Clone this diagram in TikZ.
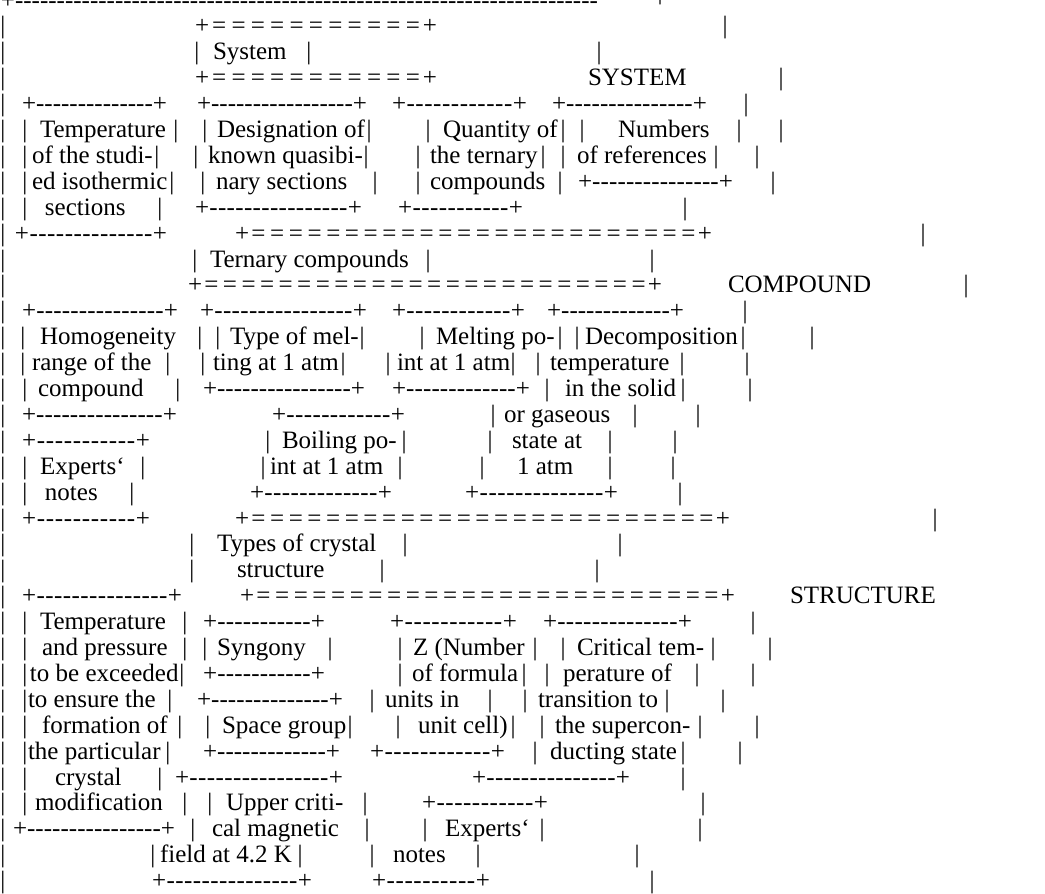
\documentclass[tikz,border=0pt]{standalone}
\usepackage{fontspec}
\setmainfont{Liberation Serif}
% bars of one row: \bars{row}{x1,x2,...}
\newcommand\bars[2]{\foreach \bx in {#2} {\node[vbar] at (\bx,#1) {|};}}
% +-----+ and +=====+ rules: \dashrule{row}{left}{right}
\newcommand\dashrule[3]{\pgfmathsetmacro\rulew{#3-#2}%
  \node[txt] at (#2,#1) {\hbox to \rulew pt{+\xleaders\hbox{-}\hfill+}};}
\newcommand\eqrule[3]{\pgfmathsetmacro\rulew{#3-#2}%
  \node[txt] at (#2,#1) {\hbox to \rulew pt{+\xleaders\hbox to 18.5pt{\hss=\hss}\hfill+}};}
\begin{document}
\begin{tikzpicture}[x=1pt,y=-25.9pt,
    every node/.style={inner sep=0pt,outer sep=0pt,font=\fontsize{25}{26}\selectfont},
    txt/.style={anchor=base west},
    vbar/.style={anchor=base}]
  \useasboundingbox[fill=white] (0,0.691) rectangle (1045,35.17);
  % left frame
  \foreach \k in {2,...,35} {\node[vbar] at (3,\k) {|};}
  \node[txt] at (1,1) {\hbox to 597pt{+\xleaders\hbox{-}\hfill}};
  \node[vbar] at (660,0.68) {|};
  % SYSTEM
  \eqrule{2}{195}{437}
  \bars{2}{725}
  \bars{3}{197,309,599}
  \node[txt] (system) at (213,3) {System};
  \eqrule{4}{195}{437}
  \node[txt] (systemhead) at (588,4) {SYSTEM};
  \bars{4}{781}
  \dashrule{5}{22}{167} \dashrule{5}{197}{367} \dashrule{5}{392}{527} \dashrule{5}{552}{707}
  \bars{5}{746}
  \bars{6}{25,176,205,369,428,563,582,739,781}
  \node[txt] (temp1) at (40,6) {Temperature};
  \node[txt] (desig1) at (217,6) {Designation of};
  \node[txt] (quant1) at (443,6) {Quantity of};
  \node[txt] (numb1) at (618,6) {Numbers};
  \bars{7}{25,157,196,366,418,543,563,716,757}
  \node[txt] (temp2) at (32,7) {of the studi-};
  \node[txt] (desig2) at (208,7) {known quasibi-};
  \node[txt] (quant2) at (430,7) {the ternary};
  \node[txt] (numb2) at (577,7) {of references};
  \bars{8}{25,172,203,375,418,560,773}
  \node[txt] (temp3) at (32,8) {ed isothermic};
  \node[txt] (desig3) at (216,8) {nary sections};
  \node[txt] (quant3) at (430,8) {compounds};
  \dashrule{8}{578}{733}
  \bars{9}{25,160,685}
  \node[txt] (temp4) at (45,9) {sections};
  \dashrule{9}{195}{362} \dashrule{9}{398}{523}
  \dashrule{10}{15}{167}
  \eqrule{10}{235}{712}
  \bars{10}{923}
  % COMPOUND
  \bars{11}{195,428,652}
  \node[txt] (ternary) at (210,11) {Ternary compounds};
  \eqrule{12}{188}{662}
  \node[txt] (comphead) at (728,12) {COMPOUND};
  \bars{12}{966}
  \dashrule{13}{22}{178} \dashrule{13}{200}{367} \dashrule{13}{392}{525} \dashrule{13}{547}{684}
  \bars{13}{745}
  \bars{14}{23,200,218,362,422,560,577,743,812}
  \node[txt] (homo1) at (40,14) {Homogeneity};
  \node[txt] (melt1) at (230,14) {Type of mel-};
  \node[txt] (mpt1) at (436,14) {Melting po-};
  \node[txt] (decomp1) at (585,14) {Decomposition};
  \bars{15}{23,168,203,343,388,513,538,682,747}
  \node[txt] (homo2) at (32,15) {range of the};
  \node[txt] (melt2) at (213,15) {ting at 1 atm};
  \node[txt] (mpt2) at (397,15) {int at 1 atm};
  \node[txt] (decomp2) at (550,15) {temperature};
  \bars{16}{25,178,547,683,750}
  \node[txt] (homo3) at (38,16) {compound};
  \dashrule{16}{203}{365} \dashrule{16}{392}{530}
  \node[txt] (decomp3) at (565,16) {in the solid};
  \dashrule{17}{22}{177} \dashrule{17}{272}{405}
  \bars{17}{493,635,698}
  \node[txt] (decomp4) at (504,17) {or gaseous};
  \dashrule{18}{22}{150}
  \bars{18}{268,404,490,610,675}
  \node[txt] (boil1) at (282,18) {Boiling po-};
  \node[txt] (decomp5) at (512,18) {state at};
  \bars{19}{25,143,263,400,482,610,673}
  \node[txt] (notes1) at (40,19) {Experts‘};
  \node[txt] (boil2) at (270,19) {int at 1 atm};
  \node[txt] (decomp6) at (517,19) {1 atm};
  \bars{20}{25,132,680}
  \node[txt] (notes2) at (45,20) {notes};
  \dashrule{20}{250}{392} \dashrule{20}{465}{618}
  \dashrule{21}{22}{150}
  \eqrule{21}{235}{730}
  \bars{21}{935}
  % STRUCTURE
  \bars{22}{192,405,620}
  \node[txt] (types1) at (217,22) {Types of crystal};
  \bars{23}{192,382,597}
  \node[txt] (types2) at (237,23) {structure};
  \dashrule{24}{22}{182}
  \eqrule{24}{240}{735}
  \node[txt] (structhead) at (790,24) {STRUCTURE};
  \bars{25}{25,185,753}
  \node[txt] (tp1) at (40,25) {Temperature};
  \dashrule{25}{203}{325} \dashrule{25}{390}{517} \dashrule{25}{543}{692}
  \bars{26}{25,185,205,330,400,535,563,713,770}
  \node[txt] (tp2) at (42,26) {and pressure};
  \node[txt] (syng) at (217,26) {Syngony};
  \node[txt] (zn1) at (413,26) {Z (Number};
  \node[txt] (crit1) at (577,26) {Critical tem-};
  \bars{27}{25,182,400,524,547,697,753}
  \node[txt] (tp3) at (30,27) {to be exceeded};
  \dashrule{27}{203}{325}
  \node[txt] (zn2) at (412,27) {of formula};
  \node[txt] (crit2) at (563,27) {perature of};
  \bars{28}{25,170,372,490,525,667,723}
  \node[txt] (tp4) at (28,28) {to ensure the};
  \dashrule{28}{197}{343}
  \node[txt] (zn3) at (385,28) {units in};
  \node[txt] (crit3) at (538,28) {transition to};
  \bars{29}{25,180,208,350,398,513,542,700,757}
  \node[txt] (tp5) at (42,29) {formation of};
  \node[txt] (spgr) at (222,29) {Space group};
  \node[txt] (zn4) at (418,29) {unit cell)};
  \node[txt] (crit4) at (555,29) {the supercon-};
  \bars{30}{25,168,535,683,740}
  \node[txt] (tp6) at (28,30) {the particular};
  \dashrule{30}{203}{340} \dashrule{30}{370}{505}
  \node[txt] (crit5) at (550,30) {ducting state};
  \bars{31}{25,160,683}
  \node[txt] (tp7) at (55,31) {crystal};
  \dashrule{31}{175}{343} \dashrule{31}{472}{630}
  \bars{32}{25,185,210,365,703}
  \node[txt] (tp8) at (35,32) {modification};
  \node[txt] (hc1) at (226,32) {Upper criti-};
  \dashrule{32}{422}{548}
  \dashrule{33}{13}{175}
  \bars{33}{193,367,425,542,700}
  \node[txt] (hc2) at (212,33) {cal magnetic};
  \node[txt] (snotes1) at (445,33) {Experts‘};
  \bars{34}{153,300,372,478,637}
  \node[txt] (hc3) at (160,34) {field at 4.2 K};
  \node[txt] (snotes2) at (393,34) {notes};
  \dashrule{35}{152}{312} \dashrule{35}{372}{490}
  \bars{35}{652}
\end{tikzpicture}
\end{document}
